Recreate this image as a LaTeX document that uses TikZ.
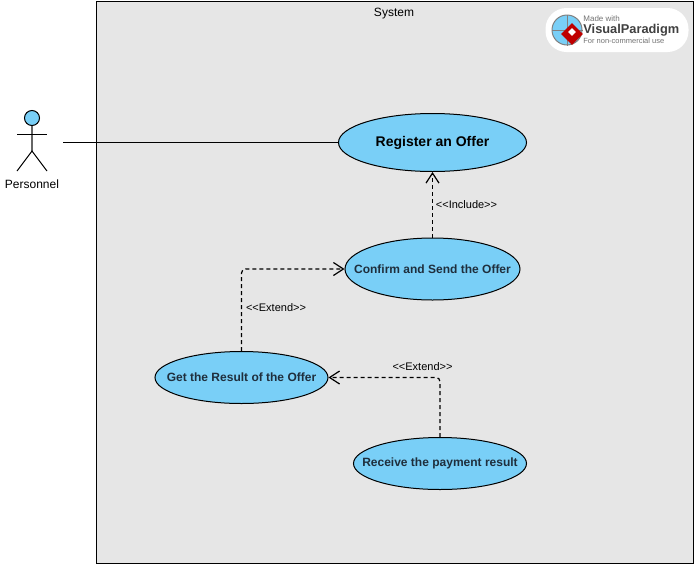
\documentclass[tikz,border=0pt]{standalone}
\usepackage{fontspec}
\setmainfont{Liberation Sans}
\usetikzlibrary{arrows.meta,shapes.geometric}
\definecolor{ucblue}{HTML}{79CFF7}
\definecolor{sysgrey}{HTML}{E6E6E6}
\definecolor{uctext}{HTML}{1F2F3D}
\newcommand{\ucname}[1]{\raisebox{-1.5pt}{\makebox[0pt]{#1}}}
\begin{document}
\begin{tikzpicture}[x=1pt,y=-1pt,thick,
    usecase/.style={ellipse,draw,fill=ucblue,line width=1pt,inner sep=0pt,text=uctext,font=\fontsize{12}{14}\selectfont\bfseries},
    stereo/.style={font=\fontsize{11}{12}\selectfont,inner sep=1pt},
    dep/.style={line width=1.2pt,dash pattern=on 4pt off 3pt,rounded corners=4pt,-{Straight Barb[length=10pt,width=13pt,line width=1.2pt]}}]
    \useasboundingbox (0,0) rectangle (694,563);

    % system boundary
    \node[draw,fill=sysgrey,line width=1pt,minimum width=597pt,minimum height=562pt,anchor=north west,inner sep=0pt] (system) at (96,0.5) {};
    \node[font=\fontsize{12}{14}\selectfont] (systemlabel) at (394,14) {System};

    % actor
    \node[circle,draw,fill=ucblue,line width=1pt,minimum size=15pt,inner sep=0pt] (head) at (32,118) {};
    \coordinate (hip) at (32,151);
    \coordinate (armL) at (17,134);
    \coordinate (armR) at (47,134);
    \coordinate (footL) at (17,171);
    \coordinate (footR) at (47,171);
    \draw[line width=1.5pt,draw=black!60] (head) -- (hip);
    \draw[line width=1pt] (armL) -- (armR);
    \draw[line width=1pt] (footL) -- (hip) -- (footR);
    \node[font=\fontsize{12}{14}\selectfont] (personnel) at (32,184) {Personnel};
    \coordinate (actorend) at (63,142.5);

    % use cases
    \node[usecase,font=\fontsize{14}{16}\selectfont\bfseries,text=black,minimum width=188pt,minimum height=58pt] (register) at (432.5,142.5) {\ucname{Register an Offer}};
    \node[usecase,minimum width=175pt,minimum height=62pt] (confirm) at (432.5,269) {\ucname{Confirm and Send the Offer}};
    \node[usecase,minimum width=173pt,minimum height=52pt] (result) at (241.5,377.5) {\ucname{Get the Result of the Offer}};
    \node[usecase,minimum width=173pt,minimum height=52pt] (payment) at (440,463.5) {\ucname{Receive the payment result}};

    \draw[line width=1pt] (actorend) -- (register);
    \draw[dep] (confirm) -- (register);
    \draw[dep] (result.north) |- (confirm.west);
    \draw[dep] (payment.north) |- (result.east);

    \node[stereo] (include) at (466.5,205) {<{}<Include>{}>};
    \node[stereo] (extendA) at (276,307.5) {<{}<Extend>{}>};
    \node[stereo] (extendB) at (422.5,366.5) {<{}<Extend>{}>};

    % logo
    \node[fill=white,rounded corners=21pt,minimum width=143pt,minimum height=44pt,inner sep=0pt] (logo) at (617,30) {};
    \node[circle,draw=black!50,fill=ucblue,minimum size=30pt,inner sep=0pt,line width=1pt] (globe) at (567,30) {};
    \draw[black!50,line width=.5pt] (globe.north) -- (globe.south) (globe.west) -- (globe.east);
    \node[diamond,fill=red!75!black,minimum size=22pt,inner sep=0pt] (mark) at (572,34) {};
    \node[diamond,fill=white,minimum size=8pt,inner sep=0pt] (markin) at (572,32) {};
    \node[anchor=west,text=black!55,font=\fontsize{8}{9}\selectfont,inner sep=0pt] (made) at (583,19) {Made with};
    \node[anchor=west,text=black!75,font=\fontsize{12.8}{15}\selectfont\bfseries,inner sep=0pt] (vp) at (583,30) {VisualParadigm};
    \node[anchor=west,text=black!55,font=\fontsize{7.5}{9}\selectfont,inner sep=0pt] (fornc) at (583,41) {For non-commercial use};
\end{tikzpicture}
\end{document}
